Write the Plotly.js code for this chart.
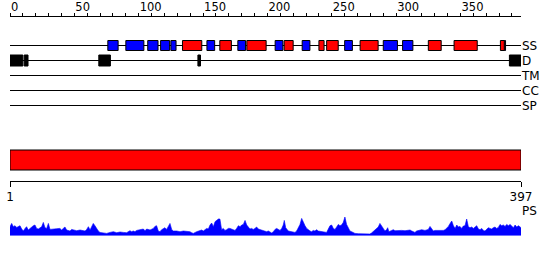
<!DOCTYPE html>
<html>
<head>
<meta charset="utf-8">
<script src="https://cdn.plot.ly/plotly-3.0.1.min.js"></script>
<style>html,body{margin:0;padding:0;background:#fff;}#chart{width:550px;height:260px;}</style>
</head>
<body>
<div id="chart"></div>
<script>
// ---- data ----
var seqLength = 397;
var trackNames = ['SS', 'D', 'TM', 'CC', 'SP', 'PS'];
// secondary structure: helix (red) and strand (blue) segments, residue start/end
var helixStart = [134, 163, 184, 213, 240, 246, 272, 325, 345, 381];
var helixEnd   = [149, 172, 199, 220, 244, 255, 286, 335, 363, 384];
var strandStart = [76, 90, 107, 117, 125, 153, 177, 206, 227, 260, 290, 305, 384];
var strandEnd   = [84, 104, 115, 124, 129, 159, 183, 212, 233, 266, 301, 313, 385];
// disorder segments
var disStart = [0, 11, 69, 146, 388];
var disEnd   = [10, 14, 78, 148, 397];
// domain bar
var domStart = [1];
var domEnd = [397];
var rulerTicks = [1, 397];
var rulerLabels = ['1', '397'];
// PS profile
var psPos = [0,1.3,2.6,3.9,5.2,6.5,7.8,9.1,10.4,11.7,12.9,14.2,15.5,16.8,18.1,19.4,20.7,22.0,23.3,24.6,25.9,27.2,28.5,29.8,31.1,32.4,33.7,36.3,38.8,40.1,41.4,42.7,44.0,46.6,47.9,49.2,51.8,54.4,57.0,58.3,59.6,60.9,62.2,63.4,64.7,66.0,67.3,68.6,69.9,72.5,75.1,77.7,80.3,82.9,85.5,88.0,90.6,93.2,94.5,95.8,97.1,98.4,101.0,103.6,104.9,106.2,108.8,111.4,112.6,113.9,115.2,116.5,117.8,119.1,120.4,121.7,123.0,124.3,125.6,126.9,129.5,132.1,134.7,137.2,139.8,141.1,142.4,145.0,147.6,148.9,150.2,151.5,152.8,154.1,155.4,156.7,158.0,159.3,160.6,161.9,163.1,164.4,165.7,167.0,168.3,169.6,170.9,172.2,173.5,174.8,176.1,177.4,178.7,180.0,181.3,182.6,183.9,185.2,186.4,187.7,189.0,190.3,191.6,192.9,194.2,196.8,199.4,200.7,202.0,203.3,204.6,205.9,207.2,208.5,209.8,211.1,212.3,213.1,214.2,216.2,218.8,221.4,222.7,224.0,225.3,226.6,227.9,229.2,230.5,231.8,233.1,234.3,235.6,236.9,238.2,239.5,242.1,244.7,246.0,247.3,248.6,249.9,251.2,252.5,253.8,255.1,256.3,257.6,258.9,260.2,261.5,262.8,264.1,265.4,266.7,268.0,270.6,273.2,275.8,278.3,279.6,280.9,282.2,283.5,284.8,286.1,287.4,288.7,290.0,291.3,292.6,293.4,294.4,296.5,297.8,299.1,301.7,304.3,306.9,309.5,310.8,312.1,313.4,314.6,315.9,317.2,319.8,322.4,325.0,326.3,327.6,328.9,330.2,332.8,335.4,336.7,338.0,339.3,340.6,341.9,343.2,344.5,345.8,347.1,348.3,349.6,350.9,352.2,353.5,354.8,356.1,357.4,358.7,360.0,361.3,362.6,363.9,365.2,366.5,367.8,369.0,370.3,371.6,372.9,374.2,375.5,376.8,378.1,379.4,380.7,382.0,383.3,384.6,385.9,387.2,388.5,389.8,391.1,392.4,393.7,395.0,396.3,397];
var psVal = [9.0,12.3,9.0,10.0,8.3,9.0,10.0,6.7,4.7,7.3,9.0,5.7,7.3,8.0,10.0,10.7,7.3,6.7,8.0,9.0,13.3,8.0,7.3,12.3,6.3,6.3,6.7,7.0,7.3,5.7,7.3,8.7,5.7,4.7,6.3,5.7,5.0,5.7,4.7,4.7,6.3,9.0,5.7,9.0,12.3,10.0,6.7,4.7,3.3,3.0,2.3,3.3,4.0,3.0,3.7,3.3,3.0,5.0,4.0,4.7,4.0,5.3,6.0,6.7,5.0,6.7,5.7,7.3,9.3,10.0,4.7,4.0,6.0,7.3,8.0,6.3,9.0,12.3,6.3,4.7,4.7,4.0,4.7,4.7,4.0,3.0,2.3,4.0,4.7,5.7,4.7,6.0,7.3,6.7,10.7,12.7,9.0,14.0,15.3,16.7,16.7,6.0,7.3,5.3,6.0,7.3,7.3,6.7,5.7,5.3,7.3,10.0,9.0,10.7,11.3,15.3,10.7,8.0,6.7,7.3,6.3,7.3,8.7,6.7,6.0,5.3,4.0,4.7,3.3,2.7,4.0,6.3,7.3,6.3,5.3,7.3,10.7,15.3,8.0,4.7,4.0,3.3,4.7,7.3,11.3,17.3,13.3,10.0,7.3,5.7,4.7,4.0,5.3,4.7,6.0,4.7,4.0,4.0,3.3,6.7,10.0,10.7,7.3,6.3,9.0,11.3,10.0,10.7,13.3,18.7,11.3,7.3,4.7,4.0,3.0,2.3,2.0,2.0,2.0,2.3,1.7,2.7,4.0,5.3,7.3,8.7,12.3,9.0,7.3,4.7,6.0,8.0,4.0,5.3,6.0,5.0,5.3,5.3,5.0,5.7,5.7,4.7,4.0,3.3,4.7,5.3,6.0,5.3,6.3,9.3,7.3,4.7,5.3,5.3,4.7,5.3,6.0,7.3,9.3,12.3,14.7,10.0,7.3,10.7,8.7,9.3,7.3,9.7,10.0,16.7,9.0,8.0,8.7,7.3,9.0,10.0,6.7,6.0,7.3,5.3,4.7,6.3,8.0,7.3,6.7,8.0,8.7,7.3,8.3,11.3,10.0,10.7,9.3,11.3,10.0,11.3,10.0,8.0,10.7,8.7,10.0,8.7,8.0];

// ---- layout helpers ----
var trackY = [45.5, 60.5, 75.5, 90.5, 105.5, 210.5];  // pixel rows of track labels
var FONT = 'DejaVu Sans, sans-serif';

function segBars(starts, ends, color, yv, h) {
  return {
    type: 'bar', orientation: 'h', xaxis: 'x', yaxis: 'y',
    base: starts,
    x: starts.map(function (s, i) { return ends[i] - s; }),
    y: starts.map(function () { return yv; }),
    width: starts.map(function () { return h; }),
    marker: {color: color, line: {color: '#000', width: 1}},
    hoverinfo: 'skip', showlegend: false
  };
}

var traces = [
  segBars(strandStart, strandEnd, '#0000ff', trackY[0], 10),
  segBars(helixStart, helixEnd, '#ff0000', trackY[0], 10),
  segBars(disStart, disEnd, '#000000', trackY[1], 11),
  {
    type: 'bar', orientation: 'h', xaxis: 'x2', yaxis: 'y',
    base: domStart, x: domStart.map(function (s, i) { return domEnd[i] - s; }),
    y: [160], width: [20],
    marker: {color: '#ff0000', line: {color: '#000', width: 1}},
    hoverinfo: 'skip', showlegend: false
  },
  {
    type: 'scatter', mode: 'lines', xaxis: 'x', yaxis: 'y2',
    x: psPos, y: psVal, fill: 'tozeroy', fillcolor: '#0000ff',
    line: {color: '#0000ff', width: 0.6},
    hoverinfo: 'skip', showlegend: false
  }
];

var shapes = trackY.slice(0, 5).map(function (yv) {
  return {type: 'line', xref: 'x', yref: 'y', x0: 0, x1: seqLength, y0: yv, y1: yv,
          line: {color: '#000', width: 1}, layer: 'below'};
});

var layout = {
  width: 550, height: 260,
  margin: {l: 10, r: 29, t: 0, b: 0},
  paper_bgcolor: '#fff', plot_bgcolor: '#fff',
  font: {family: FONT, size: 12, color: '#000'},
  showlegend: false,
  barmode: 'overlay',
  xaxis: {
    range: [0, seqLength], side: 'top', anchor: 'free', position: 1 - 15.5 / 260,
    showgrid: false, zeroline: false, showline: true, linecolor: '#000', linewidth: 1,
    ticks: 'outside', ticklen: 3, tickcolor: '#000', tickwidth: 1,
    tick0: 0, dtick: 50, ticklabelposition: 'outside right',
    tickfont: {family: FONT, size: 11.5, color: '#000'},
    minor: {dtick: 10, ticks: 'outside', ticklen: 3, tickcolor: '#000', tickwidth: 1, showgrid: false},
    fixedrange: true
  },
  xaxis2: {
    range: [1, seqLength], overlaying: 'x', side: 'bottom', anchor: 'free', position: 1 - 180.5 / 260,
    showgrid: false, zeroline: false, showline: true, linecolor: '#000', linewidth: 1,
    ticks: 'outside', ticklen: 5, tickcolor: '#000', tickwidth: 1,
    tickvals: rulerTicks, ticktext: rulerLabels,
    tickfont: {family: FONT, size: 12, color: '#000'},
    fixedrange: true
  },
  yaxis: {
    range: [260, 0], domain: [0, 1], side: 'right', anchor: 'x',
    showgrid: false, zeroline: false, showline: false, ticks: '',
    tickvals: trackY, ticktext: trackNames,
    tickfont: {family: FONT, size: 12, color: '#000'},
    fixedrange: true
  },
  yaxis2: {
    range: [0, 20], domain: [(260 - 235.7) / 260, (260 - 215.7) / 260], anchor: 'x',
    showgrid: false, zeroline: false, showline: false, showticklabels: false, ticks: '',
    fixedrange: true
  },
  shapes: shapes
};

Plotly.newPlot('chart', traces, layout, {displayModeBar: false, staticPlot: true});
</script>
</body>
</html>
